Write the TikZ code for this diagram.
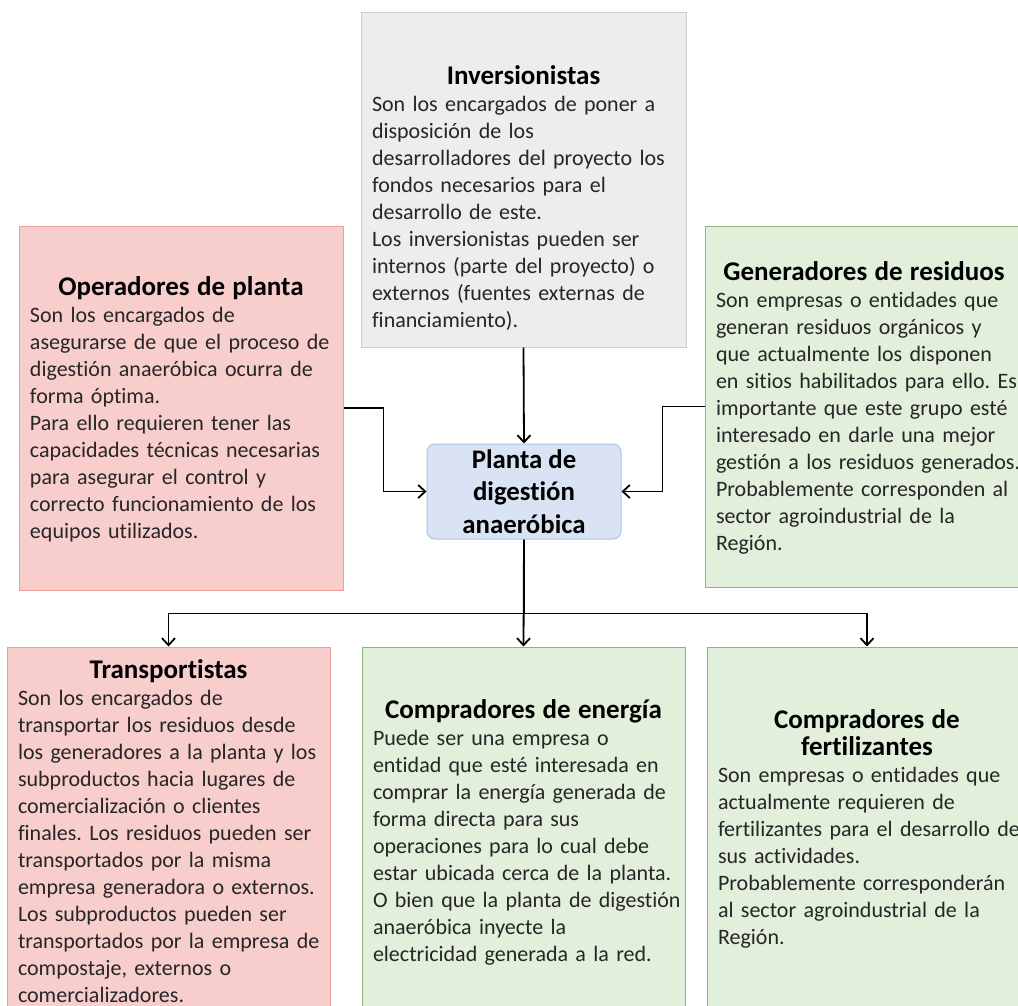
\documentclass[tikz,border=0pt]{standalone}
\usepackage{fontspec}
\setmainfont{Carlito}[RawFeature={-liga}]
\usepackage{xcolor}
\definecolor{grisFondo}{HTML}{EDEDED}
\definecolor{grisBorde}{HTML}{CFCFCF}
\definecolor{rojoFondo}{HTML}{F8CECC}
\definecolor{rojoBorde}{HTML}{F19C99}
\definecolor{verdeFondo}{HTML}{E2EFDA}
\definecolor{verdeBorde}{HTML}{8DB677}
\definecolor{azulFondo}{HTML}{DAE3F3}
\definecolor{azulBorde}{HTML}{A9C4EB}
\definecolor{textoGris}{HTML}{262626}
\newcommand*\bodyFont{\fontsize{22}{27}\selectfont}
\newcommand*\roleTitle[2][27pt]{%
	{\centering\fontsize{27}{27}\selectfont\bfseries\color{black}\rule{0pt}{#1}#2\par}
}
\newcommand*\roleBody[1]{%
	\noindent\begin{tabular}[t]{@{}l@{}}#1\end{tabular}
}
\usepackage{tikz}
\usetikzlibrary{positioning}
\usetikzlibrary{arrows.meta}

\begin{document}
\frenchspacing
\begin{tikzpicture}[x=1pt, y=-1pt,
	grupo/.style = { rectangle, draw, line width = 1pt, inner xsep = 11pt, inner ysep = 0pt, text = textoGris, font = \bodyFont },
	gris/.style = { grupo, fill = grisFondo, draw = grisBorde },
	rojo/.style = { grupo, fill = rojoFondo, draw = rojoBorde },
	verde/.style = { grupo, fill = verdeFondo, draw = verdeBorde },
	centro/.style = { rectangle, rounded corners = 8pt, fill = azulFondo, draw = azulBorde, line width = 1pt, minimum width = 194pt, minimum height = 95pt, align = center, font = \fontsize{26.8}{32.5}\selectfont\bfseries },
	flecha/.style = { draw, black, line width = 1.8pt, -{Straight Barb[length=7pt, width=13pt, line width=1.8pt]} },
	]
	\fill[white] (0,0) rectangle (1018,1006);
	\useasboundingbox (0,0) rectangle (1018,1006);

	\node[gris, minimum width = 325pt, minimum height = 334pt, text width = 303pt] (INV) at (523.5,180) {%
		\roleTitle[61pt]{Inversionistas}
		\roleBody{Son los encargados de poner a\\ disposición de los\\ desarrolladores del proyecto los\\ fondos necesarios para el\\ desarrollo de este.\\ Los inversionistas pueden ser\\ internos (parte del proyecto) o\\ externos (fuentes externas de\\ financiamiento).}};

	\node[rojo, minimum width = 324pt, minimum height = 364pt, text width = 302pt] (OPER) at (181,408) {%
		\roleTitle{Operadores de planta}
		\roleBody{Son los encargados de\\ asegurarse de que el proceso de\\ digestión anaeróbica ocurra de\\ forma óptima.\\ Para ello requieren tener las\\ capacidades técnicas necesarias\\ para asegurar el control y\\ correcto funcionamiento de los\\ equipos utilizados.}};

	\node[verde, minimum width = 318pt, minimum height = 361pt, text width = 296pt] (GEN) at (864,406.5) {%
		\roleTitle{Generadores de residuos}
		\roleBody{Son empresas o entidades que\\ generan residuos orgánicos y\\ que actualmente los disponen\\ en sitios habilitados para ello. Es\\ importante que este grupo esté\\ interesado en darle una mejor\\ gestión a los residuos generados.\\ Probablemente corresponden al\\ sector agroindustrial de la\\ Región.}};

	\node[centro] (PLANTA) at (524,491.5) {Planta de\\ digestión\\ anaeróbica};

	\node[rojo, minimum width = 323pt, minimum height = 368pt, text width = 301pt] (TRANS) at (168.5,831) {%
		\roleTitle{Transportistas}
		\roleBody{Son los encargados de\\ transportar los residuos desde\\ los generadores a la planta y los\\ subproductos hacia lugares de\\ comercialización o clientes\\ finales. Los residuos pueden ser\\ transportados por la misma\\ empresa generadora o externos.\\ Los subproductos pueden ser\\ transportados por la empresa de\\ compostaje, externos o\\ comercializadores.}};

	\node[verde, minimum width = 323pt, minimum height = 368pt, text width = 301pt] (ENERG) at (523.5,831) {%
		\roleTitle{Compradores de energía}
		\roleBody{Puede ser una empresa o\\ entidad que esté interesada en\\ comprar la energía generada de\\ forma directa para sus\\ operaciones para lo cual debe\\ estar ubicada cerca de la planta.\\ O bien que la planta de digestión\\ anaeróbica inyecte la\\ electricidad generada a la red.}};

	\node[verde, minimum width = 320pt, minimum height = 368pt, text width = 298pt] (FERT) at (867,831) {%
		\roleTitle[0pt]{Compradores de\\ fertilizantes}
		\roleBody{Son empresas o entidades que\\ actualmente requieren de\\ fertilizantes para el desarrollo de\\ sus actividades.\\ Probablemente corresponderán\\ al sector agroindustrial de la\\ Región.}};

	\draw[flecha] (INV.south) -- (PLANTA.north);
	\draw[flecha] (OPER.east) -- ++(40,0) |- (PLANTA.west);
	\draw[flecha] (GEN.west) -- ++(-42,0) |- (PLANTA.east);

	\draw[flecha] (PLANTA.south) -- (ENERG.north);
	\draw[flecha] (PLANTA.south) -- ++(0,74) -| (TRANS.north);
	\draw[flecha] (PLANTA.south) -- ++(0,74) -| (FERT.north);
\end{tikzpicture}
\end{document}
